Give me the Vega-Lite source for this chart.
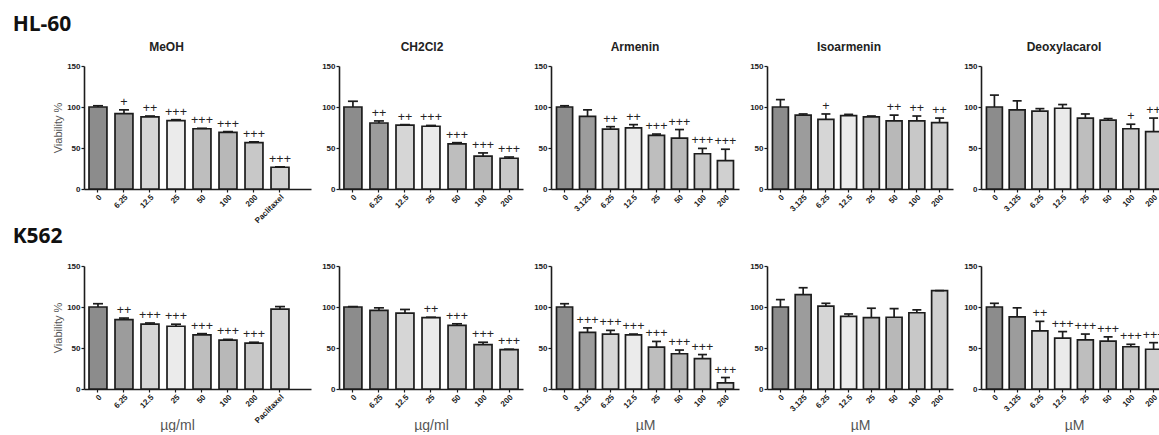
{
"$schema": "https://vega.github.io/schema/vega-lite/v6.json",
"padding": {"left": 12, "top": 14, "right": 0, "bottom": 0},
"datasets": {
"hl60": [
{"panel":"MeOH","conc":"0","v":100,"hi":101.5,"s":""},
{"panel":"MeOH","conc":"6.25","v":92,"hi":96.5,"s":"+"},
{"panel":"MeOH","conc":"12.5","v":88,"hi":89,"s":"++"},
{"panel":"MeOH","conc":"25","v":83.5,"hi":84.5,"s":"+++"},
{"panel":"MeOH","conc":"50","v":73.5,"hi":74,"s":"+++"},
{"panel":"MeOH","conc":"100","v":69,"hi":70,"s":"+++"},
{"panel":"MeOH","conc":"200","v":56.5,"hi":57.5,"s":"+++"},
{"panel":"MeOH","conc":"Paclitaxel","v":26.5,"hi":27,"s":"+++"},
{"panel":"CH2Cl2","conc":"0","v":100,"hi":107,"s":""},
{"panel":"CH2Cl2","conc":"6.25","v":80.5,"hi":83,"s":"++"},
{"panel":"CH2Cl2","conc":"12.5","v":78,"hi":78.5,"s":"++"},
{"panel":"CH2Cl2","conc":"25","v":76.5,"hi":77.5,"s":"+++"},
{"panel":"CH2Cl2","conc":"50","v":55,"hi":56.5,"s":"+++"},
{"panel":"CH2Cl2","conc":"100","v":40,"hi":44,"s":"+++"},
{"panel":"CH2Cl2","conc":"200","v":37.5,"hi":39,"s":"+++"},
{"panel":"Armenin","conc":"0","v":100,"hi":101.5,"s":""},
{"panel":"Armenin","conc":"3.125","v":88.5,"hi":96.5,"s":""},
{"panel":"Armenin","conc":"6.25","v":73,"hi":76,"s":"++"},
{"panel":"Armenin","conc":"12.5","v":74.5,"hi":78.5,"s":"++"},
{"panel":"Armenin","conc":"25","v":65.5,"hi":67,"s":"+++"},
{"panel":"Armenin","conc":"50","v":62,"hi":72.5,"s":"+++"},
{"panel":"Armenin","conc":"100","v":43,"hi":49.5,"s":"+++"},
{"panel":"Armenin","conc":"200","v":34.5,"hi":48.5,"s":"+++"},
{"panel":"Isoarmenin","conc":"0","v":100,"hi":109,"s":""},
{"panel":"Isoarmenin","conc":"3.125","v":90,"hi":91.5,"s":""},
{"panel":"Isoarmenin","conc":"6.25","v":85,"hi":91.5,"s":"+"},
{"panel":"Isoarmenin","conc":"12.5","v":89.5,"hi":91,"s":""},
{"panel":"Isoarmenin","conc":"25","v":88,"hi":89,"s":""},
{"panel":"Isoarmenin","conc":"50","v":83,"hi":90,"s":"++"},
{"panel":"Isoarmenin","conc":"100","v":83,"hi":89,"s":"++"},
{"panel":"Isoarmenin","conc":"200","v":81,"hi":86.5,"s":"++"},
{"panel":"Deoxylacarol","conc":"0","v":100,"hi":114.5,"s":""},
{"panel":"Deoxylacarol","conc":"3.125","v":96.5,"hi":107.5,"s":""},
{"panel":"Deoxylacarol","conc":"6.25","v":95,"hi":98,"s":""},
{"panel":"Deoxylacarol","conc":"12.5","v":98.5,"hi":103,"s":""},
{"panel":"Deoxylacarol","conc":"25","v":86.5,"hi":91.5,"s":""},
{"panel":"Deoxylacarol","conc":"50","v":84,"hi":86,"s":""},
{"panel":"Deoxylacarol","conc":"100","v":73.5,"hi":79,"s":"+"},
{"panel":"Deoxylacarol","conc":"200","v":70,"hi":86.5,"s":"++"}
],
"k562": [
{"panel":"MeOH","conc":"0","v":100,"hi":104,"s":""},
{"panel":"MeOH","conc":"6.25","v":84.5,"hi":86.5,"s":"++"},
{"panel":"MeOH","conc":"12.5","v":79,"hi":80.5,"s":"+++"},
{"panel":"MeOH","conc":"25","v":76.5,"hi":79,"s":"+++"},
{"panel":"MeOH","conc":"50","v":66,"hi":67.5,"s":"+++"},
{"panel":"MeOH","conc":"100","v":59.5,"hi":60.5,"s":"+++"},
{"panel":"MeOH","conc":"200","v":56,"hi":57,"s":"+++"},
{"panel":"MeOH","conc":"Paclitaxel","v":97.5,"hi":100.5,"s":""},
{"panel":"CH2Cl2","conc":"0","v":100,"hi":100.5,"s":""},
{"panel":"CH2Cl2","conc":"6.25","v":96,"hi":99,"s":""},
{"panel":"CH2Cl2","conc":"12.5","v":92.5,"hi":97,"s":""},
{"panel":"CH2Cl2","conc":"25","v":87,"hi":87.5,"s":"++"},
{"panel":"CH2Cl2","conc":"50","v":77.5,"hi":79.5,"s":"+++"},
{"panel":"CH2Cl2","conc":"100","v":54,"hi":57,"s":"+++"},
{"panel":"CH2Cl2","conc":"200","v":48,"hi":48.5,"s":"+++"},
{"panel":"Armenin","conc":"0","v":100,"hi":104,"s":""},
{"panel":"Armenin","conc":"3.125","v":69,"hi":74.5,"s":"+++"},
{"panel":"Armenin","conc":"6.25","v":67,"hi":71.5,"s":"+++"},
{"panel":"Armenin","conc":"12.5","v":66,"hi":67,"s":"+++"},
{"panel":"Armenin","conc":"25","v":51,"hi":58,"s":"+++"},
{"panel":"Armenin","conc":"50","v":43,"hi":47.5,"s":"+++"},
{"panel":"Armenin","conc":"100","v":37,"hi":42,"s":"+++"},
{"panel":"Armenin","conc":"200","v":7.5,"hi":14,"s":"+++"},
{"panel":"Isoarmenin","conc":"0","v":100,"hi":109,"s":""},
{"panel":"Isoarmenin","conc":"3.125","v":115,"hi":123.5,"s":""},
{"panel":"Isoarmenin","conc":"6.25","v":101,"hi":104.5,"s":""},
{"panel":"Isoarmenin","conc":"12.5","v":88.5,"hi":91.5,"s":""},
{"panel":"Isoarmenin","conc":"25","v":87,"hi":98.5,"s":""},
{"panel":"Isoarmenin","conc":"50","v":87.5,"hi":98,"s":""},
{"panel":"Isoarmenin","conc":"100","v":93,"hi":96.5,"s":""},
{"panel":"Isoarmenin","conc":"200","v":120,"hi":120,"s":""},
{"panel":"Deoxylacarol","conc":"0","v":100,"hi":104.5,"s":""},
{"panel":"Deoxylacarol","conc":"3.125","v":88,"hi":99,"s":""},
{"panel":"Deoxylacarol","conc":"6.25","v":71,"hi":82.5,"s":"++"},
{"panel":"Deoxylacarol","conc":"12.5","v":62,"hi":70,"s":"+++"},
{"panel":"Deoxylacarol","conc":"25","v":60,"hi":67,"s":"+++"},
{"panel":"Deoxylacarol","conc":"50","v":58.5,"hi":63.5,"s":"+++"},
{"panel":"Deoxylacarol","conc":"100","v":51.5,"hi":54.5,"s":"+++"},
{"panel":"Deoxylacarol","conc":"200","v":48.5,"hi":56.5,"s":"+++"}
]
},
"spacing": 1,
"resolve": {"scale": {"fill": "independent"}},
"vconcat": [
{
"title": {"text": "HL-60", "anchor": "start", "frame": "bounds", "font": "Open Sans", "fontSize": 21, "fontWeight": "bold", "color": "#111", "dx": -40, "offset": 6},
"spacing": 28,
"bounds": "flush",
"resolve": {"scale": {"fill": "independent"}},
"hconcat": [
{
"width": 227, "height": 123,
"title": {"text": "MeOH", "dx": -31},
"data": {"name": "hl60"},
"transform": [{"filter": "datum.panel == 'MeOH'"}],
"encoding": {"x": {"field": "conc", "type": "ordinal", "sort": null, "scale": {"paddingInner": 0.31, "paddingOuter": 0.52, "align": 0.185}, "axis": {"title": null}}},
"layer": [
{"mark": {"type": "bar", "stroke": "#1c1c1c", "strokeWidth": 1.7}, "encoding": {"y": {"field": "v", "type": "quantitative", "scale": {"domain": [0, 150], "nice": false}, "title": "Viability %"}, "fill": {"field": "conc", "type": "nominal", "sort": null, "scale": {"range": ["#8c8c8c", "#9c9c9c", "#d6d6d6", "#ebebeb", "#bebebe", "#b8b8b8", "#c8c8c8", "#d0d0d0"]}, "legend": null}}},
{"mark": {"type": "rule", "stroke": "#1c1c1c", "strokeWidth": 1.7}, "encoding": {"y": {"field": "v", "type": "quantitative", "title": "Viability %"}, "y2": {"field": "hi"}}},
{"mark": {"type": "tick", "color": "#1c1c1c", "opacity": 1, "size": 10, "thickness": 1.7}, "encoding": {"y": {"field": "hi", "type": "quantitative", "title": "Viability %"}}},
{"mark": {"type": "text", "dy": -4, "baseline": "alphabetic", "fontSize": 12.5, "font": "Liberation Sans", "color": "#222"}, "encoding": {"y": {"field": "hi", "type": "quantitative", "title": "Viability %"}, "text": {"field": "s"}}}
]
},
{
"width": 184, "height": 123,
"title": {"text": "CH2Cl2", "dx": -9},
"data": {"name": "hl60"},
"transform": [{"filter": "datum.panel == 'CH2Cl2'"}],
"encoding": {"x": {"field": "conc", "type": "ordinal", "sort": null, "scale": {"paddingInner": 0.31, "paddingOuter": 0.19}, "axis": {"title": null}}},
"layer": [
{"mark": {"type": "bar", "stroke": "#1c1c1c", "strokeWidth": 1.7}, "encoding": {"y": {"field": "v", "type": "quantitative", "scale": {"domain": [0, 150], "nice": false}, "title": null}, "fill": {"field": "conc", "type": "nominal", "sort": null, "scale": {"range": ["#8c8c8c", "#9c9c9c", "#d6d6d6", "#ebebeb", "#bebebe", "#b8b8b8", "#c8c8c8", "#d0d0d0"]}, "legend": null}}},
{"mark": {"type": "rule", "stroke": "#1c1c1c", "strokeWidth": 1.7}, "encoding": {"y": {"field": "v", "type": "quantitative", "title": null}, "y2": {"field": "hi"}}},
{"mark": {"type": "tick", "color": "#1c1c1c", "opacity": 1, "size": 10, "thickness": 1.7}, "encoding": {"y": {"field": "hi", "type": "quantitative", "title": null}}},
{"mark": {"type": "text", "dy": -4, "baseline": "alphabetic", "fontSize": 12.5, "font": "Liberation Sans", "color": "#222"}, "encoding": {"y": {"field": "hi", "type": "quantitative", "title": null}, "text": {"field": "s"}}}
]
},
{
"width": 188, "height": 123,
"title": {"text": "Armenin", "dx": -10},
"data": {"name": "hl60"},
"transform": [{"filter": "datum.panel == 'Armenin'"}],
"encoding": {"x": {"field": "conc", "type": "ordinal", "sort": null, "scale": {"paddingInner": 0.3, "paddingOuter": 0.24}, "axis": {"title": null}}},
"layer": [
{"mark": {"type": "bar", "stroke": "#1c1c1c", "strokeWidth": 1.7}, "encoding": {"y": {"field": "v", "type": "quantitative", "scale": {"domain": [0, 150], "nice": false}, "title": null}, "fill": {"field": "conc", "type": "nominal", "sort": null, "scale": {"range": ["#8c8c8c", "#9c9c9c", "#d6d6d6", "#ebebeb", "#bebebe", "#b8b8b8", "#c8c8c8", "#d0d0d0"]}, "legend": null}}},
{"mark": {"type": "rule", "stroke": "#1c1c1c", "strokeWidth": 1.7}, "encoding": {"y": {"field": "v", "type": "quantitative", "title": null}, "y2": {"field": "hi"}}},
{"mark": {"type": "tick", "color": "#1c1c1c", "opacity": 1, "size": 9, "thickness": 1.7}, "encoding": {"y": {"field": "hi", "type": "quantitative", "title": null}}},
{"mark": {"type": "text", "dy": -4, "baseline": "alphabetic", "fontSize": 12.5, "font": "Liberation Sans", "color": "#222"}, "encoding": {"y": {"field": "hi", "type": "quantitative", "title": null}, "text": {"field": "s"}}}
]
},
{
"width": 186, "height": 123,
"title": {"text": "Isoarmenin", "dx": -11},
"data": {"name": "hl60"},
"transform": [{"filter": "datum.panel == 'Isoarmenin'"}],
"encoding": {"x": {"field": "conc", "type": "ordinal", "sort": null, "scale": {"paddingInner": 0.3, "paddingOuter": 0.24}, "axis": {"title": null}}},
"layer": [
{"mark": {"type": "bar", "stroke": "#1c1c1c", "strokeWidth": 1.7}, "encoding": {"y": {"field": "v", "type": "quantitative", "scale": {"domain": [0, 150], "nice": false}, "title": null}, "fill": {"field": "conc", "type": "nominal", "sort": null, "scale": {"range": ["#8c8c8c", "#9c9c9c", "#d6d6d6", "#ebebeb", "#bebebe", "#b8b8b8", "#c8c8c8", "#d0d0d0"]}, "legend": null}}},
{"mark": {"type": "rule", "stroke": "#1c1c1c", "strokeWidth": 1.7}, "encoding": {"y": {"field": "v", "type": "quantitative", "title": null}, "y2": {"field": "hi"}}},
{"mark": {"type": "tick", "color": "#1c1c1c", "opacity": 1, "size": 9, "thickness": 1.7}, "encoding": {"y": {"field": "hi", "type": "quantitative", "title": null}}},
{"mark": {"type": "text", "dy": -4, "baseline": "alphabetic", "fontSize": 12.5, "font": "Liberation Sans", "color": "#222"}, "encoding": {"y": {"field": "hi", "type": "quantitative", "title": null}, "text": {"field": "s"}}}
]
},
{
"width": 186, "height": 123,
"title": {"text": "Deoxylacarol", "dx": -10},
"data": {"name": "hl60"},
"transform": [{"filter": "datum.panel == 'Deoxylacarol'"}],
"encoding": {"x": {"field": "conc", "type": "ordinal", "sort": null, "scale": {"paddingInner": 0.3, "paddingOuter": 0.24}, "axis": {"title": null}}},
"layer": [
{"mark": {"type": "bar", "stroke": "#1c1c1c", "strokeWidth": 1.7}, "encoding": {"y": {"field": "v", "type": "quantitative", "scale": {"domain": [0, 150], "nice": false}, "title": null}, "fill": {"field": "conc", "type": "nominal", "sort": null, "scale": {"range": ["#8c8c8c", "#9c9c9c", "#d6d6d6", "#ebebeb", "#bebebe", "#b8b8b8", "#c8c8c8", "#d0d0d0"]}, "legend": null}}},
{"mark": {"type": "rule", "stroke": "#1c1c1c", "strokeWidth": 1.7}, "encoding": {"y": {"field": "v", "type": "quantitative", "title": null}, "y2": {"field": "hi"}}},
{"mark": {"type": "tick", "color": "#1c1c1c", "opacity": 1, "size": 9, "thickness": 1.7}, "encoding": {"y": {"field": "hi", "type": "quantitative", "title": null}}},
{"mark": {"type": "text", "dy": -4, "baseline": "alphabetic", "fontSize": 12.5, "font": "Liberation Sans", "color": "#222"}, "encoding": {"y": {"field": "hi", "type": "quantitative", "title": null}, "text": {"field": "s"}}}
]
}
]
},
{
"title": {"text": "K562", "anchor": "start", "frame": "bounds", "font": "Open Sans", "fontSize": 21, "fontWeight": "bold", "color": "#111", "dx": -40, "offset": 15},
"spacing": 28,
"bounds": "flush",
"resolve": {"scale": {"fill": "independent"}},
"hconcat": [
{
"width": 227, "height": 123,
"data": {"name": "k562"},
"transform": [{"filter": "datum.panel == 'MeOH'"}],
"encoding": {"x": {"field": "conc", "type": "ordinal", "sort": null, "scale": {"paddingInner": 0.31, "paddingOuter": 0.52, "align": 0.185}, "axis": {"title": "µg/ml", "titleX": 93, "titleY": 29, "titleBaseline": "top"}}},
"layer": [
{"mark": {"type": "bar", "stroke": "#1c1c1c", "strokeWidth": 1.7}, "encoding": {"y": {"field": "v", "type": "quantitative", "scale": {"domain": [0, 150], "nice": false}, "title": "Viability %"}, "fill": {"field": "conc", "type": "nominal", "sort": null, "scale": {"range": ["#8c8c8c", "#9c9c9c", "#d6d6d6", "#ebebeb", "#bebebe", "#b8b8b8", "#c8c8c8", "#d0d0d0"]}, "legend": null}}},
{"mark": {"type": "rule", "stroke": "#1c1c1c", "strokeWidth": 1.7}, "encoding": {"y": {"field": "v", "type": "quantitative", "title": "Viability %"}, "y2": {"field": "hi"}}},
{"mark": {"type": "tick", "color": "#1c1c1c", "opacity": 1, "size": 10, "thickness": 1.7}, "encoding": {"y": {"field": "hi", "type": "quantitative", "title": "Viability %"}}},
{"mark": {"type": "text", "dy": -4, "baseline": "alphabetic", "fontSize": 12.5, "font": "Liberation Sans", "color": "#222"}, "encoding": {"y": {"field": "hi", "type": "quantitative", "title": "Viability %"}, "text": {"field": "s"}}}
]
},
{
"width": 184, "height": 123,
"data": {"name": "k562"},
"transform": [{"filter": "datum.panel == 'CH2Cl2'"}],
"encoding": {"x": {"field": "conc", "type": "ordinal", "sort": null, "scale": {"paddingInner": 0.31, "paddingOuter": 0.19}, "axis": {"title": "µg/ml", "titleY": 29, "titleBaseline": "top"}}},
"layer": [
{"mark": {"type": "bar", "stroke": "#1c1c1c", "strokeWidth": 1.7}, "encoding": {"y": {"field": "v", "type": "quantitative", "scale": {"domain": [0, 150], "nice": false}, "title": null}, "fill": {"field": "conc", "type": "nominal", "sort": null, "scale": {"range": ["#8c8c8c", "#9c9c9c", "#d6d6d6", "#ebebeb", "#bebebe", "#b8b8b8", "#c8c8c8", "#d0d0d0"]}, "legend": null}}},
{"mark": {"type": "rule", "stroke": "#1c1c1c", "strokeWidth": 1.7}, "encoding": {"y": {"field": "v", "type": "quantitative", "title": null}, "y2": {"field": "hi"}}},
{"mark": {"type": "tick", "color": "#1c1c1c", "opacity": 1, "size": 10, "thickness": 1.7}, "encoding": {"y": {"field": "hi", "type": "quantitative", "title": null}}},
{"mark": {"type": "text", "dy": -4, "baseline": "alphabetic", "fontSize": 12.5, "font": "Liberation Sans", "color": "#222"}, "encoding": {"y": {"field": "hi", "type": "quantitative", "title": null}, "text": {"field": "s"}}}
]
},
{
"width": 188, "height": 123,
"data": {"name": "k562"},
"transform": [{"filter": "datum.panel == 'Armenin'"}],
"encoding": {"x": {"field": "conc", "type": "ordinal", "sort": null, "scale": {"paddingInner": 0.3, "paddingOuter": 0.24}, "axis": {"title": "µM", "titleY": 29, "titleBaseline": "top"}}},
"layer": [
{"mark": {"type": "bar", "stroke": "#1c1c1c", "strokeWidth": 1.7}, "encoding": {"y": {"field": "v", "type": "quantitative", "scale": {"domain": [0, 150], "nice": false}, "title": null}, "fill": {"field": "conc", "type": "nominal", "sort": null, "scale": {"range": ["#8c8c8c", "#9c9c9c", "#d6d6d6", "#ebebeb", "#bebebe", "#b8b8b8", "#c8c8c8", "#d0d0d0"]}, "legend": null}}},
{"mark": {"type": "rule", "stroke": "#1c1c1c", "strokeWidth": 1.7}, "encoding": {"y": {"field": "v", "type": "quantitative", "title": null}, "y2": {"field": "hi"}}},
{"mark": {"type": "tick", "color": "#1c1c1c", "opacity": 1, "size": 9, "thickness": 1.7}, "encoding": {"y": {"field": "hi", "type": "quantitative", "title": null}}},
{"mark": {"type": "text", "dy": -4, "baseline": "alphabetic", "fontSize": 12.5, "font": "Liberation Sans", "color": "#222"}, "encoding": {"y": {"field": "hi", "type": "quantitative", "title": null}, "text": {"field": "s"}}}
]
},
{
"width": 186, "height": 123,
"data": {"name": "k562"},
"transform": [{"filter": "datum.panel == 'Isoarmenin'"}],
"encoding": {"x": {"field": "conc", "type": "ordinal", "sort": null, "scale": {"paddingInner": 0.3, "paddingOuter": 0.24}, "axis": {"title": "µM", "titleY": 29, "titleBaseline": "top"}}},
"layer": [
{"mark": {"type": "bar", "stroke": "#1c1c1c", "strokeWidth": 1.7}, "encoding": {"y": {"field": "v", "type": "quantitative", "scale": {"domain": [0, 150], "nice": false}, "title": null}, "fill": {"field": "conc", "type": "nominal", "sort": null, "scale": {"range": ["#8c8c8c", "#9c9c9c", "#d6d6d6", "#ebebeb", "#bebebe", "#b8b8b8", "#c8c8c8", "#d0d0d0"]}, "legend": null}}},
{"mark": {"type": "rule", "stroke": "#1c1c1c", "strokeWidth": 1.7}, "encoding": {"y": {"field": "v", "type": "quantitative", "title": null}, "y2": {"field": "hi"}}},
{"mark": {"type": "tick", "color": "#1c1c1c", "opacity": 1, "size": 9, "thickness": 1.7}, "encoding": {"y": {"field": "hi", "type": "quantitative", "title": null}}},
{"mark": {"type": "text", "dy": -4, "baseline": "alphabetic", "fontSize": 12.5, "font": "Liberation Sans", "color": "#222"}, "encoding": {"y": {"field": "hi", "type": "quantitative", "title": null}, "text": {"field": "s"}}}
]
},
{
"width": 186, "height": 123,
"data": {"name": "k562"},
"transform": [{"filter": "datum.panel == 'Deoxylacarol'"}],
"encoding": {"x": {"field": "conc", "type": "ordinal", "sort": null, "scale": {"paddingInner": 0.3, "paddingOuter": 0.24}, "axis": {"title": "µM", "titleY": 29, "titleBaseline": "top"}}},
"layer": [
{"mark": {"type": "bar", "stroke": "#1c1c1c", "strokeWidth": 1.7}, "encoding": {"y": {"field": "v", "type": "quantitative", "scale": {"domain": [0, 150], "nice": false}, "title": null}, "fill": {"field": "conc", "type": "nominal", "sort": null, "scale": {"range": ["#8c8c8c", "#9c9c9c", "#d6d6d6", "#ebebeb", "#bebebe", "#b8b8b8", "#c8c8c8", "#d0d0d0"]}, "legend": null}}},
{"mark": {"type": "rule", "stroke": "#1c1c1c", "strokeWidth": 1.7}, "encoding": {"y": {"field": "v", "type": "quantitative", "title": null}, "y2": {"field": "hi"}}},
{"mark": {"type": "tick", "color": "#1c1c1c", "opacity": 1, "size": 9, "thickness": 1.7}, "encoding": {"y": {"field": "hi", "type": "quantitative", "title": null}}},
{"mark": {"type": "text", "dy": -4, "baseline": "alphabetic", "fontSize": 12.5, "font": "Liberation Sans", "color": "#222"}, "encoding": {"y": {"field": "hi", "type": "quantitative", "title": null}, "text": {"field": "s"}}}
]
}
]
}
],
"config": {
"view": {"stroke": null},
"font": "Liberation Sans",
"axis": {"grid": false, "domainColor": "#1c1c1c", "domainWidth": 1.6, "tickColor": "#1c1c1c", "tickWidth": 1.2, "tickSize": 3, "labelFont": "Liberation Sans", "labelFontWeight": "bold", "labelColor": "#1a1a1a", "titleFont": "Liberation Sans", "titleFontWeight": "normal", "titleColor": "#555"},
"axisY": {"tickCount": 3, "labelFontSize": 8, "labelPadding": 1, "titleFontSize": 11, "titlePadding": 3},
"axisX": {"labelAngle": -45, "labelFontSize": 8, "labelPadding": 1, "titleFontSize": 14, "titlePadding": 3},
"title": {"font": "Liberation Sans", "fontSize": 12, "fontWeight": "bold", "color": "#222", "offset": 8}
}
}
